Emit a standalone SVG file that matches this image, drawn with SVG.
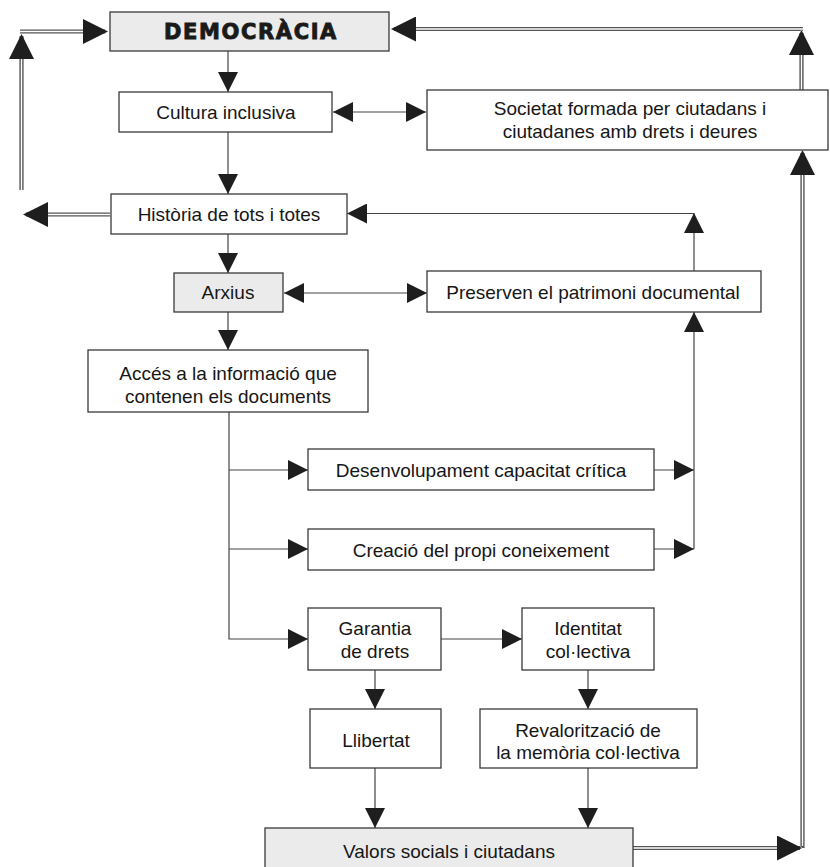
<svg xmlns="http://www.w3.org/2000/svg" width="830" height="867" viewBox="0 0 830 867">
<style>
.box{fill:#fff;stroke:#3a3a3a;stroke-width:1.3}
.grey{fill:#ebebeb}
.t{font-family:"Liberation Sans",Arial,sans-serif;font-size:19px;fill:#161616;text-anchor:middle}
.title{font-family:"DejaVu Sans","Liberation Sans",sans-serif;font-weight:bold;font-size:21px;letter-spacing:1.6px;fill:#1a1a1a;stroke:#1a1a1a;stroke-width:0.9;text-anchor:middle}
.ln{fill:none;stroke:#444;stroke-width:1.2}
.dbo{fill:none;stroke:#555;stroke-width:4.2}
.dbi{fill:none;stroke:#fff;stroke-width:1.4}
.ah{fill:#1e1e1e}
</style>
<defs>
<marker id="a" markerUnits="userSpaceOnUse" viewBox="0 0 20 20" refX="20" refY="10" markerWidth="20" markerHeight="20" orient="auto-start-reverse"><path class="ah" d="M0,0 L20,10 L0,20 Z"/></marker>
<marker id="A" markerUnits="userSpaceOnUse" viewBox="0 0 25 25" refX="25" refY="12.5" markerWidth="25" markerHeight="25" orient="auto"><path class="ah" d="M0,0 L25,12.5 L0,25 Z"/></marker>
</defs>

<g id="connectors">
  <g id="double-lines">
    <path class="dbo" d="M21.5,190 V36"/>
    <path class="dbi" d="M21.5,190 V34" marker-end="url(#A)"/>
    <path class="dbo" d="M20,31.5 H105"/>
    <path class="dbi" d="M20,31.5 H108" marker-end="url(#A)"/>
    <path class="dbo" d="M110,214.5 H26"/>
    <path class="dbi" d="M110,214.5 H23" marker-end="url(#A)"/>
    <path class="dbo" d="M803,29 H394"/>
    <path class="dbi" d="M803,29 H391" marker-end="url(#A)"/>
    <path class="dbo" d="M801.5,90 V33"/>
    <path class="dbi" d="M801.5,90 V30" marker-end="url(#A)"/>
    <path class="dbo" d="M802.5,848 V153"/>
    <path class="dbi" d="M802.5,846 V150" marker-end="url(#A)"/>
    <path class="dbo" d="M633,848 H800"/>
    <path class="dbi" d="M633,848 H802" marker-end="url(#A)"/>
  </g>
  <path class="ln" d="M228,51 V92" marker-end="url(#a)"/>
  <path class="ln" d="M228,132 V194" marker-end="url(#a)"/>
  <path class="ln" d="M333,112 H426" marker-start="url(#a)" marker-end="url(#a)"/>
  <path class="ln" d="M228,234 V273" marker-end="url(#a)"/>
  <path class="ln" d="M284,293 H427" marker-start="url(#a)" marker-end="url(#a)"/>
  <path class="ln" d="M694,271 V213" marker-end="url(#a)"/>
  <path class="ln" d="M694,213.5 H347" marker-end="url(#a)"/>
  <path class="ln" d="M694,549 V312" marker-end="url(#a)"/>
  <path class="ln" d="M654,470 H694" marker-end="url(#a)"/>
  <path class="ln" d="M654,549 H694" marker-end="url(#a)"/>
  <path class="ln" d="M228,312 V350" marker-end="url(#a)"/>
  <path class="ln" d="M229,412 V639 H308" marker-end="url(#a)"/>
  <path class="ln" d="M229,470 H308" marker-end="url(#a)"/>
  <path class="ln" d="M229,549 H308" marker-end="url(#a)"/>
  <path class="ln" d="M441,639 H522" marker-end="url(#a)"/>
  <path class="ln" d="M375,670 V709" marker-end="url(#a)"/>
  <path class="ln" d="M588,670 V709" marker-end="url(#a)"/>
  <path class="ln" d="M375,768 V828" marker-end="url(#a)"/>
  <path class="ln" d="M588,768 V828" marker-end="url(#a)"/>
</g>

<g id="democracia">
  <rect class="box grey" x="110" y="12" width="279" height="39"/>
  <text class="title" x="251" y="39">DEMOCRÀCIA</text>
</g>
<g id="cultura">
  <rect class="box" x="119" y="92" width="213" height="40"/>
  <text class="t" x="226" y="119">Cultura inclusiva</text>
</g>
<g id="societat">
  <rect class="box" x="427" y="90" width="401" height="60"/>
  <text class="t" x="630" y="115">Societat formada per ciutadans i</text>
  <text class="t" x="630" y="138">ciutadanes amb drets i deures</text>
</g>
<g id="historia">
  <rect class="box" x="111" y="194" width="236" height="40"/>
  <text class="t" x="229" y="221">Història de tots i totes</text>
</g>
<g id="arxius">
  <rect class="box grey" x="174" y="273" width="109" height="39"/>
  <text class="t" x="228" y="299">Arxius</text>
</g>
<g id="preserven">
  <rect class="box" x="427" y="271" width="334" height="41"/>
  <text class="t" x="593" y="299">Preserven el patrimoni documental</text>
</g>
<g id="acces">
  <rect class="box" x="88" y="350" width="280" height="62"/>
  <text class="t" x="228" y="380">Accés a la informació que</text>
  <text class="t" x="228" y="403">contenen els documents</text>
</g>
<g id="desenvolupament">
  <rect class="box" x="308" y="449" width="346" height="41"/>
  <text class="t" x="481" y="477">Desenvolupament capacitat crítica</text>
</g>
<g id="creacio">
  <rect class="box" x="308" y="529" width="346" height="41"/>
  <text class="t" x="481" y="557">Creació del propi coneixement</text>
</g>
<g id="garantia">
  <rect class="box" x="308" y="608" width="133" height="62"/>
  <text class="t" x="375" y="635">Garantia</text>
  <text class="t" x="375" y="658">de drets</text>
</g>
<g id="identitat">
  <rect class="box" x="522" y="608" width="132" height="62"/>
  <text class="t" x="588" y="635">Identitat</text>
  <text class="t" x="588" y="658">col·lectiva</text>
</g>
<g id="llibertat">
  <rect class="box" x="310" y="709" width="131" height="59"/>
  <text class="t" x="376" y="747">Llibertat</text>
</g>
<g id="revaloritzacio">
  <rect class="box" x="480" y="709" width="217" height="59"/>
  <text class="t" x="588" y="737">Revalorització de</text>
  <text class="t" x="588" y="759">la memòria col·lectiva</text>
</g>
<g id="valors">
  <rect class="box grey" x="265" y="828" width="368" height="52"/>
  <text class="t" x="449" y="858">Valors socials i ciutadans</text>
</g>
</svg>
